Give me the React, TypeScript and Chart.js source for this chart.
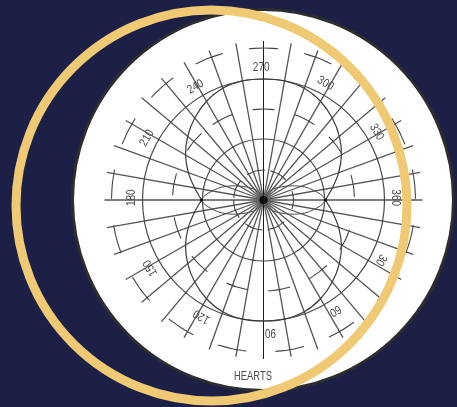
import React, { useEffect, useRef } from "react";
import { Chart, registerables } from "chart.js";

Chart.register(...registerables);

const pageColor = "#1d2046";
const goldColor = "#f0c975";
const inkColor = "#444444";

// Angles run clockwise from the right-hand horizontal, as the chart's own labels do.
const spokeAngles = [0, 10, 20, 30, 40, 50, 60, 70, 80, 90, 100, 110, 120, 130, 140, 150, 160, 170, 180, 190, 200, 210, 220, 230, 240, 250, 260, 270, 280, 290, 300, 310, 320, 330, 340, 350];
const spokeLength = 159;
const ringRadii = [61, 121];
const outerTickAngles = [270, 291, 312, 333, 354, 15, 36, 59, 80, 102, 123, 144, 165, 186, 207, 228, 249];
const middleTickAngles = [270, 297, 323, 351, 26, 53, 80, 107, 135, 162, 190, 220, 243];
const innerTickAngles = [255, 301, 0, 64, 110, 162, 202];
const upperLobeAngles = [180, 190, 200, 210, 220, 230, 240, 250, 260, 270, 280, 290, 300, 310, 320, 330, 340, 350, 360];
const upperLobeRadii = [62, 70, 80, 90, 99, 107, 114, 119, 121, 121, 121, 119, 114, 107, 99, 90, 80, 70, 62];
const lowerLobeAngles = [0, 10, 20, 30, 40, 50, 60, 70, 80, 90, 100, 110, 120, 130, 140, 150, 160, 170, 180];
const lowerLobeRadii = [62, 70, 80, 90, 99, 107, 114, 119, 121, 121, 121, 119, 114, 107, 99, 90, 80, 70, 62];
const sideLobeOffsets = [-90, -70, -50, -29, -17, -6, 0, 6, 17, 29, 50, 70, 90];
const sideLobeRadii = [0, 5, 14, 29, 44, 57, 62, 57, 44, 29, 14, 5, 0];
const dotRadii = [62, 62];
const dotAngles = [0, 180];
const scaleLabels = ["270", "300", "330", "360", "30", "60", "90", "120", "150", "180", "210", "240"];
const scaleLabelAngles = [269, 298, 329, 359, 27, 57, 87, 118, 149, 181, 208, 239];
const scaleLabelRotations = [0, 30, 60, 90, 120, 150, 180, 210, 240, 270, 300, 330];
const scaleLabelRadius = 132;
const caption = "HEARTS";

const polar = (angle: number, radius: number) => {
  const t = (angle * Math.PI) / 180;
  return { x: radius * Math.cos(t), y: radius * Math.sin(t) };
};

const lineSet = (data: { x: number; y: number }[], color: string, width: number, tension = 0) => ({
  type: "scatter" as const,
  data,
  showLine: true,
  borderColor: color,
  borderWidth: width,
  pointRadius: 0,
  tension,
  fill: false,
  clip: false,
});

const roundSet = (x: number, y: number, radius: number, fill: string, edge: string, width: number) => ({
  type: "scatter" as const,
  data: [{ x, y }],
  showLine: false,
  pointRadius: radius,
  pointBackgroundColor: fill,
  pointBorderColor: edge,
  pointBorderWidth: width,
  clip: false,
});

const tickSet = (angle: number, radius: number, span: number) =>
  lineSet(
    [polar(angle - span, radius), polar(angle, radius), polar(angle + span, radius)],
    inkColor,
    1.1,
    0.4
  );

const textPlugin = {
  id: "chartText",
  afterDatasetsDraw(chart: any) {
    const { ctx, scales } = chart;
    ctx.save();
    ctx.fillStyle = "#4a4a4a";
    ctx.textAlign = "center";
    ctx.textBaseline = "middle";
    ctx.font = "12px 'Liberation Sans', sans-serif";
    scaleLabels.forEach((label, i) => {
      const p = polar(scaleLabelAngles[i], scaleLabelRadius);
      ctx.save();
      ctx.translate(scales.x.getPixelForValue(p.x), scales.y.getPixelForValue(p.y));
      ctx.rotate((scaleLabelRotations[i] * Math.PI) / 180);
      ctx.scale(0.84, 1);
      ctx.fillText(label, 0, 0);
      ctx.restore();
    });
    ctx.translate(scales.x.getPixelForValue(-10.5), scales.y.getPixelForValue(176.5));
    ctx.scale(0.78, 1);
    ctx.fillText(caption, 0, 0);
    ctx.restore();
  },
};

export default function App() {
  const ref = useRef<HTMLCanvasElement | null>(null);

  useEffect(() => {
    document.body.style.margin = "0";
    document.body.style.background = pageColor;
    const bottomToTop: any[] = [
      roundSet(-0.5, 0, 190.5, "#ffffff", "#2d2d2f", 3),
      ...spokeAngles.map((a) => {
        const isVertical = a === 90 || a === 270;
        return lineSet([polar(a, 0), polar(a, spokeLength)], isVertical ? "#1c1c1c" : "#555555", isVertical ? 1 : 1.3);
      }),
      ...ringRadii.map((r) => roundSet(0, 0, r, "rgba(0,0,0,0)", "#484848", 1.2)),
      lineSet(upperLobeAngles.map((a, i) => polar(a, upperLobeRadii[i])), "#3a3a3a", 1.2, 0.3),
      lineSet(lowerLobeAngles.map((a, i) => polar(a, lowerLobeRadii[i])), "#3a3a3a", 1.2, 0.3),
      lineSet(sideLobeOffsets.map((a, i) => polar(a, sideLobeRadii[i])), "#4c4c4c", 1, 0.3),
      lineSet(sideLobeOffsets.map((a, i) => polar(180 + a, sideLobeRadii[i])), "#4c4c4c", 1, 0.3),
      ...outerTickAngles.map((a) => tickSet(a, 152, 5.5)),
      ...middleTickAngles.map((a) => tickSet(a, 91, 7)),
      ...innerTickAngles.map((a) => tickSet(a, 30, 18)),
      ...dotAngles.map((a, i) => {
        const p = polar(a, dotRadii[i]);
        return roundSet(p.x, p.y, 1.6, "#111111", "#111111", 0);
      }),
      roundSet(0, 0, 4, "#0c0c0c", "#0c0c0c", 0),
      roundSet(-52, 5.5, 195.5, "rgba(0,0,0,0)", goldColor, 9),
    ];
    const datasets = bottomToTop.reverse();
    const chart = new Chart(ref.current as HTMLCanvasElement, {
      type: "scatter",
      data: { datasets },
      plugins: [textPlugin],
      options: {
        animation: false,
        responsive: false,
        events: [],
        layout: { padding: 0, autoPadding: false },
        plugins: { legend: { display: false }, tooltip: { enabled: false } },
        scales: {
          x: { type: "linear", min: -263.5, max: 193.5, display: false },
          y: { type: "linear", min: -200, max: 207, reverse: true, display: false },
        },
      } as any,
    } as any);
    return () => chart.destroy();
  }, []);

  return <canvas ref={ref} width={457} height={407} style={{ display: "block", width: 457, height: 407 }} />;
}
